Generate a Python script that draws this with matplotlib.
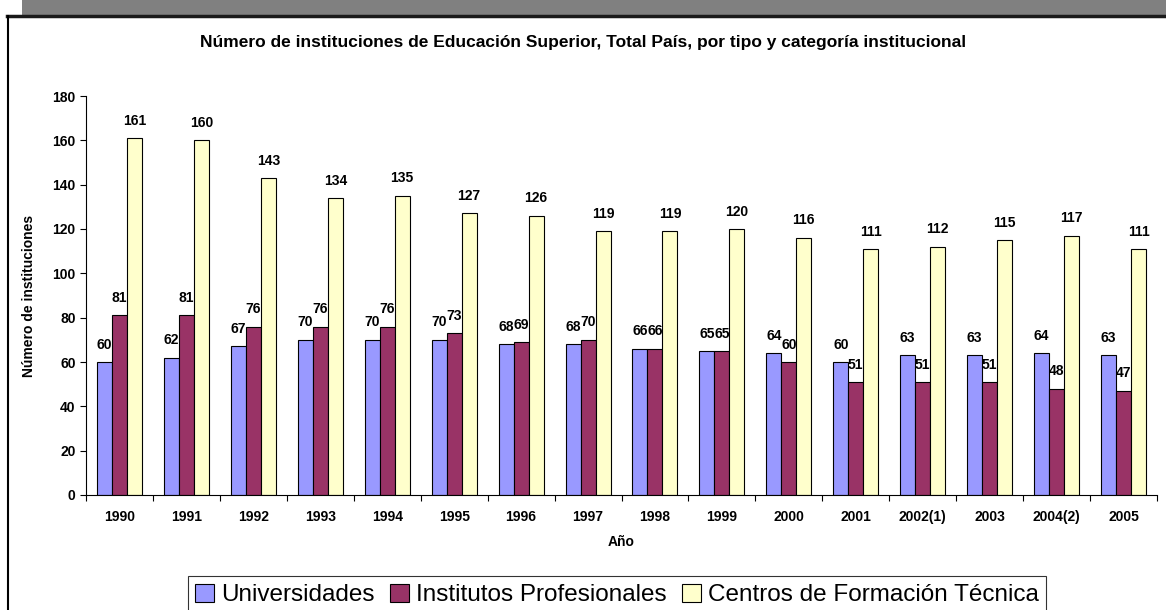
import numpy as np
import matplotlib.pyplot as plt
from matplotlib.patches import Rectangle
from matplotlib.lines import Line2D

plt.rcParams['font.family'] = ['Liberation Sans', 'DejaVu Sans']

anios = ['1990', '1991', '1992', '1993', '1994', '1995', '1996', '1997',
         '1998', '1999', '2000', '2001', '2002(1)', '2003', '2004(2)', '2005']
universidades = [60, 62, 67, 70, 70, 70, 68, 68, 66, 65, 64, 60, 63, 63, 64, 63]
institutos = [81, 81, 76, 76, 76, 73, 69, 70, 66, 65, 60, 51, 51, 51, 48, 47]
centros = [161, 160, 143, 134, 135, 127, 126, 119, 119, 120, 116, 111, 112, 115, 117, 111]

series = ['Universidades', 'Institutos Profesionales', 'Centros de Formación Técnica']
colores = ['#9999FF', '#993366', '#FFFFCC']

fig = plt.figure(figsize=(11.66, 6.10), dpi=100)

# marco de fondo: banda gris arriba y recuadro con borde negro
fig.patches.append(Rectangle((22 / 1166, 1 - 15 / 610), 1, 15 / 610,
                             transform=fig.transFigure, facecolor='#808080',
                             edgecolor='none', zorder=0))
fig.add_artist(Line2D([7 / 1166, 1], [1 - 16 / 610, 1 - 16 / 610],
                      transform=fig.transFigure, color='#1a1a1a', lw=2.5))
fig.add_artist(Line2D([8 / 1166, 8 / 1166], [0, 1 - 16 / 610],
                      transform=fig.transFigure, color='black', lw=1.5))

ax = fig.add_axes([86 / 1166, 1 - 495 / 610, (1157 - 86) / 1166, (495 - 96) / 610])

x = np.arange(len(anios))
ancho = 0.224
datos = [universidades, institutos, centros]
for i, (vals, col, nom) in enumerate(zip(datos, colores, series)):
    pos = x + (i - 1) * ancho
    ax.bar(pos, vals, width=ancho, color=col, edgecolor='black', linewidth=0.8,
           label=nom, zorder=2)
    for px, v in zip(pos, vals):
        ax.annotate(str(v), (px, v), xytext=(0, 7.5), textcoords='offset points',
                    ha='center', va='bottom', fontsize=10, fontweight='bold')

ax.set_xlim(-0.5, len(anios) - 0.5)
ax.set_ylim(0, 180)
ax.set_yticks(range(0, 181, 20))
ax.set_xticks(np.arange(len(anios) + 1) - 0.5, minor=False)
ax.set_xticklabels([])
ax.set_xticks(x, minor=True)
ax.set_xticklabels(anios, minor=True, fontsize=10, fontweight='bold')
ax.tick_params(axis='x', which='minor', length=0, pad=11)
ax.tick_params(axis='x', which='major', length=4, direction='out')
ax.tick_params(axis='y', length=4, direction='out', labelsize=10)
for lab in ax.get_yticklabels():
    lab.set_fontweight('bold')

ax.spines['top'].set_visible(False)
ax.spines['right'].set_visible(False)

ax.set_xlabel('Año', fontsize=10, fontweight='bold', labelpad=8)
ax.set_ylabel('Número de instituciones', fontsize=10, fontweight='bold', labelpad=12)
fig.text(0.5, 1 - 43 / 610, 'Número de instituciones de Educación Superior, Total País, por tipo y categoría institucional',
         ha='center', va='center', fontsize=12.5, fontweight='bold')

leg = fig.legend(loc='lower center', bbox_to_anchor=(617 / 1166, -0.026), ncol=3,
                 fontsize=17.5, frameon=True, fancybox=False, edgecolor='black',
                 handlelength=0.8, handleheight=0.8, handletextpad=0.3,
                 columnspacing=0.6, borderpad=0.3)
leg.get_frame().set_linewidth(0.8)

fig.savefig('out.png', dpi=100)
